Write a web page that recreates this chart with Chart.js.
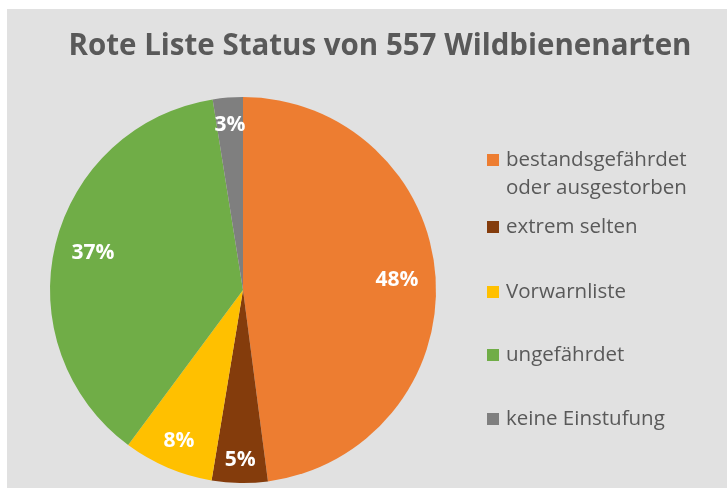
<!DOCTYPE html>
<html>
<head>
<meta charset="utf-8">
<script src="https://cdn.jsdelivr.net/npm/chart.js@4.4.1/dist/chart.umd.min.js"></script>
<style>
html,body{margin:0;padding:0;background:#ffffff;}
#wrap{width:727px;height:492px;}
</style>
</head>
<body>
<div id="wrap"><canvas id="c" width="727" height="492"></canvas></div>
<script>
const titleText = "Rote Liste Status von 557 Wildbienenarten";
const categories = [["bestandsgefährdet", "oder ausgestorben"], ["extrem selten"], ["Vorwarnliste"], ["ungefährdet"], ["keine Einstufung"]];
const counts = [267, 26, 42, 208, 14];
const colors = ["#ed7d31", "#843c0c", "#ffc000", "#70ad47", "#7f7f7f"];
const labelRadius = [0.80, 0.88, 0.85, 0.80, 0.86];
const legendY = [160, 227, 292, 355, 419];

const FONT = "'Open Sans', 'Noto Sans', sans-serif";
const TEXT = "#595959";

const deco = {
  id: 'deco',
  beforeDraw(chart) {
    const ctx = chart.ctx;
    ctx.save();
    ctx.fillStyle = "#ffffff";
    ctx.fillRect(0, 0, chart.width, chart.height);
    ctx.fillStyle = "#e1e1e1";
    ctx.fillRect(7, 9, chart.width - 7, 479);
    ctx.restore();
  },
  afterDatasetsDraw(chart) {
    const ctx = chart.ctx;
    ctx.save();
    // title
    ctx.fillStyle = TEXT;
    ctx.font = "bold 29.5px " + FONT;
    ctx.textAlign = "center";
    ctx.textBaseline = "middle";
    ctx.fillText(titleText, 380, 47);
    // data labels
    const meta = chart.getDatasetMeta(0);
    const total = counts.reduce((a, b) => a + b, 0);
    ctx.font = "bold 21px " + FONT;
    ctx.fillStyle = "#ffffff";
    meta.data.forEach((arc, i) => {
      const p = arc.getProps(['x', 'y', 'startAngle', 'endAngle', 'outerRadius'], true);
      const mid = (p.startAngle + p.endAngle) / 2;
      const r = p.outerRadius * labelRadius[i];
      const pct = Math.round(counts[i] / total * 100) + "%";
      ctx.fillText(pct, p.x + Math.cos(mid) * r, p.y + Math.sin(mid) * r);
    });
    // legend
    ctx.font = "20.5px " + FONT;
    ctx.textAlign = "left";
    categories.forEach((lines, i) => {
      ctx.fillStyle = colors[i];
      ctx.fillRect(487, legendY[i] - 6, 12, 12);
      ctx.fillStyle = TEXT;
      lines.forEach((ln, j) => ctx.fillText(ln, 506, legendY[i] + j * 28));
    });
    ctx.restore();
  }
};

new Chart(document.getElementById('c'), {
  type: 'pie',
  data: {
    labels: categories.map(l => l.join(' ')),
    datasets: [{
      data: counts,
      backgroundColor: colors,
      borderWidth: 0
    }]
  },
  options: {
    responsive: false,
    animation: false,
    layout: { padding: { left: 50, right: 291, top: 97, bottom: 9 } },
    plugins: { legend: { display: false }, title: { display: false }, tooltip: { enabled: false } }
  },
  plugins: [deco]
});
</script>
</body>
</html>
